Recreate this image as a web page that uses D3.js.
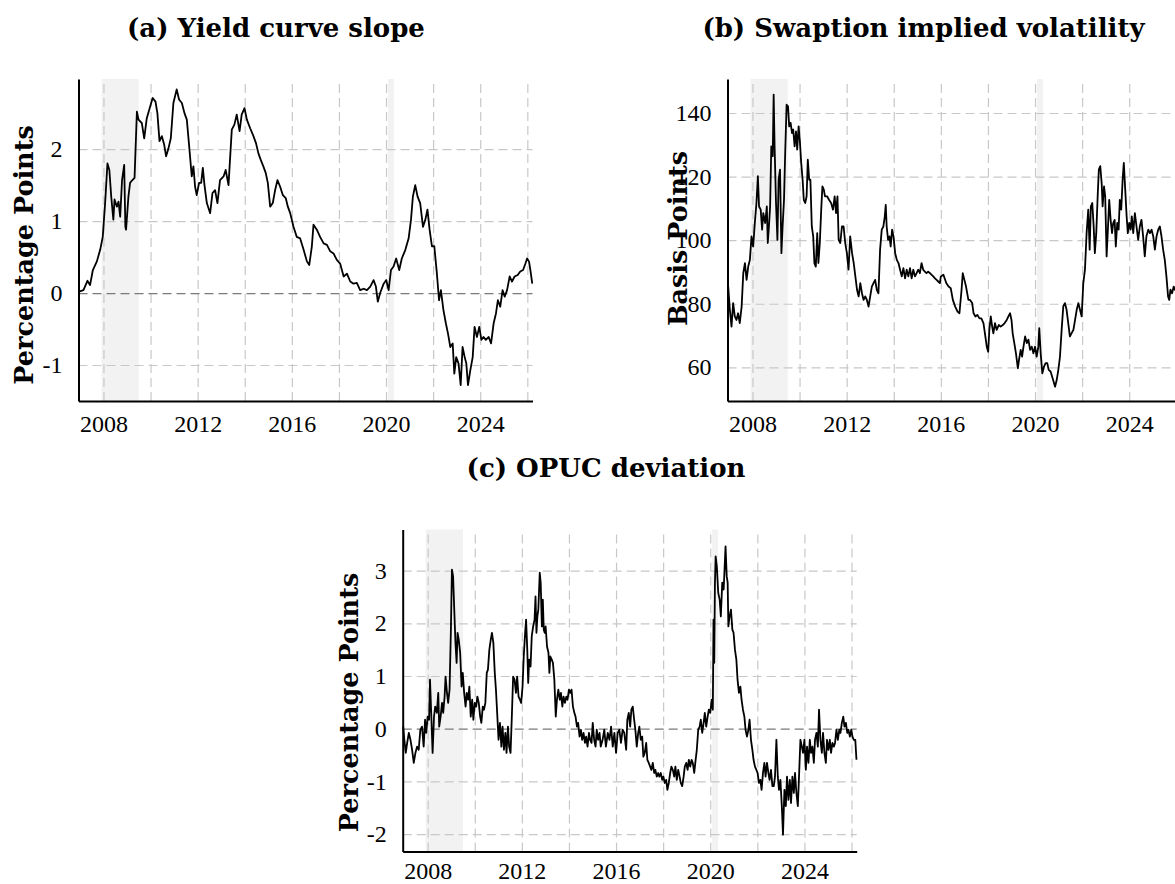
<!DOCTYPE html>
<html>
<head>
<meta charset="utf-8">
<script src="https://cdn.jsdelivr.net/npm/d3@7"></script>
<style>
body { margin: 0; background: #fff; }
</style>
</head>
<body>
<div id="chart"></div>
<script>
// ---- data (decimal years, values) ----
var slopeYears = [
  2006.97, 2007.15, 2007.32, 2007.43, 2007.55, 2007.72, 2007.86, 2007.97, 2008.07, 2008.17,
  2008.25, 2008.33, 2008.42, 2008.47, 2008.57, 2008.64, 2008.71, 2008.79, 2008.88, 2008.93,
  2008.96, 2009.06, 2009.13, 2009.23, 2009.32, 2009.42, 2009.49, 2009.63, 2009.73, 2009.84,
  2009.98, 2010.09, 2010.21, 2010.29, 2010.38, 2010.48, 2010.58, 2010.66, 2010.76, 2010.86,
  2010.97, 2011.11, 2011.21, 2011.33, 2011.44, 2011.54, 2011.64, 2011.75, 2011.82, 2011.89,
  2011.96, 2012.06, 2012.15, 2012.22, 2012.29, 2012.39, 2012.53, 2012.63, 2012.74, 2012.84,
  2012.95, 2013.10, 2013.19, 2013.31, 2013.45, 2013.56, 2013.66, 2013.78, 2013.87, 2013.99,
  2014.09, 2014.23, 2014.37, 2014.48, 2014.58, 2014.68, 2014.79, 2014.89, 2014.98, 2015.08,
  2015.19, 2015.29, 2015.39, 2015.50, 2015.62, 2015.74, 2015.83, 2015.93, 2016.07, 2016.21,
  2016.35, 2016.50, 2016.64, 2016.74, 2016.85, 2016.92, 2017.06, 2017.20, 2017.35, 2017.49,
  2017.63, 2017.77, 2017.91, 2018.05, 2018.20, 2018.34, 2018.48, 2018.62, 2018.76, 2018.90,
  2019.05, 2019.19, 2019.33, 2019.47, 2019.57, 2019.65, 2019.75, 2019.90, 2020.01, 2020.11,
  2020.21, 2020.32, 2020.43, 2020.56, 2020.67, 2020.82, 2020.96, 2021.06, 2021.14, 2021.24,
  2021.34, 2021.45, 2021.57, 2021.67, 2021.76, 2021.85, 2021.95, 2022.05, 2022.16, 2022.25,
  2022.33, 2022.44, 2022.54, 2022.63, 2022.73, 2022.83, 2022.90, 2022.98, 2023.08, 2023.17,
  2023.25, 2023.34, 2023.41, 2023.48, 2023.58, 2023.68, 2023.76, 2023.86, 2023.96, 2024.05,
  2024.14, 2024.24, 2024.36, 2024.46, 2024.57, 2024.67, 2024.75, 2024.85, 2024.95, 2025.04,
  2025.14, 2025.25, 2025.35, 2025.46, 2025.59, 2025.70, 2025.82, 2025.92, 2025.99, 2026.07,
  2026.13, 2026.21
];
var slopeValues = [
  0.02, 0.04, 0.17, 0.11, 0.32, 0.44, 0.60, 0.78, 1.25, 1.80,
  1.71, 1.34, 1.02, 1.30, 1.20, 1.27, 1.06, 1.57, 1.78, 0.92,
  0.88, 1.34, 1.53, 1.57, 1.60, 2.52, 2.41, 2.36, 2.15, 2.43,
  2.59, 2.71, 2.66, 2.50, 2.11, 2.18, 2.06, 1.90, 2.01, 2.15,
  2.64, 2.83, 2.69, 2.64, 2.50, 2.41, 2.04, 1.62, 1.76, 1.48,
  1.36, 1.53, 1.53, 1.74, 1.50, 1.25, 1.11, 1.39, 1.43, 1.25,
  1.57, 1.62, 1.71, 1.50, 2.27, 2.34, 2.48, 2.25, 2.48, 2.57,
  2.41, 2.29, 2.18, 2.08, 1.94, 1.85, 1.76, 1.67, 1.53, 1.20,
  1.25, 1.43, 1.57, 1.48, 1.36, 1.32, 1.20, 1.11, 0.92, 0.78,
  0.76, 0.60, 0.44, 0.39, 0.65, 0.95, 0.88, 0.78, 0.69, 0.67,
  0.58, 0.55, 0.46, 0.41, 0.23, 0.27, 0.16, 0.13, 0.14, 0.04,
  0.06, 0.04, 0.09, 0.18, 0.09, -0.12, 0.00, 0.13, 0.18, 0.04,
  0.32, 0.37, 0.48, 0.32, 0.48, 0.60, 0.76, 1.02, 1.34, 1.50,
  1.34, 1.25, 0.92, 1.02, 1.16, 0.88, 0.65, 0.65, 0.27, -0.10,
  0.04, -0.24, -0.42, -0.56, -0.75, -0.70, -1.12, -0.89, -0.98, -1.28,
  -0.75, -0.89, -0.98, -1.28, -1.07, -0.89, -0.47, -0.61, -0.47, -0.65,
  -0.61, -0.65, -0.61, -0.70, -0.42, -0.28, -0.10, -0.19, 0.04, -0.05,
  0.04, 0.23, 0.16, 0.23, 0.25, 0.30, 0.32, 0.41, 0.48, 0.44,
  0.32, 0.13
];

var volYears = [
  2006.97, 2007.04, 2007.11, 2007.18, 2007.25, 2007.32, 2007.39, 2007.46, 2007.54, 2007.61,
  2007.68, 2007.75, 2007.82, 2007.89, 2007.96, 2008.03, 2008.10, 2008.17, 2008.23, 2008.28,
  2008.35, 2008.41, 2008.46, 2008.54, 2008.61, 2008.65, 2008.70, 2008.75, 2008.80, 2008.86,
  2008.90, 2008.94, 2009.00, 2009.06, 2009.11, 2009.17, 2009.23, 2009.28, 2009.34, 2009.39,
  2009.45, 2009.51, 2009.56, 2009.62, 2009.68, 2009.73, 2009.79, 2009.85, 2009.90, 2009.96,
  2010.01, 2010.07, 2010.13, 2010.18, 2010.24, 2010.30, 2010.35, 2010.41, 2010.46, 2010.52,
  2010.58, 2010.63, 2010.69, 2010.75, 2010.80, 2010.86, 2010.92, 2010.97, 2011.03, 2011.08,
  2011.17, 2011.25, 2011.34, 2011.42, 2011.49, 2011.55, 2011.61, 2011.66, 2011.73, 2011.80,
  2011.87, 2011.94, 2012.01, 2012.08, 2012.15, 2012.23, 2012.30, 2012.37, 2012.44, 2012.51,
  2012.58, 2012.65, 2012.72, 2012.79, 2012.86, 2012.93, 2013.00, 2013.07, 2013.14, 2013.21,
  2013.28, 2013.35, 2013.42, 2013.49, 2013.56, 2013.62, 2013.66, 2013.70, 2013.76, 2013.82,
  2013.87, 2013.93, 2013.99, 2014.06, 2014.13, 2014.20, 2014.27, 2014.34, 2014.41, 2014.48,
  2014.55, 2014.62, 2014.69, 2014.76, 2014.83, 2014.90, 2014.97, 2015.04, 2015.11, 2015.18,
  2015.25, 2015.32, 2015.39, 2015.46, 2015.54, 2015.61, 2015.68, 2015.75, 2015.82, 2015.89,
  2015.96, 2016.00, 2016.11, 2016.23, 2016.33, 2016.42, 2016.51, 2016.61, 2016.71, 2016.79,
  2016.88, 2016.93, 2017.00, 2017.07, 2017.17, 2017.24, 2017.33, 2017.39, 2017.47, 2017.55,
  2017.64, 2017.72, 2017.81, 2017.89, 2017.95, 2018.01, 2018.06, 2018.12, 2018.18, 2018.23,
  2018.30, 2018.37, 2018.46, 2018.54, 2018.63, 2018.71, 2018.80, 2018.87, 2018.94, 2019.00,
  2019.05, 2019.12, 2019.19, 2019.27, 2019.32, 2019.39, 2019.45, 2019.51, 2019.58, 2019.65,
  2019.72, 2019.79, 2019.86, 2019.93, 2020.00, 2020.07, 2020.14, 2020.18, 2020.24, 2020.31,
  2020.38, 2020.45, 2020.52, 2020.58, 2020.66, 2020.75, 2020.85, 2020.92, 2020.99, 2021.06,
  2021.13, 2021.20, 2021.27, 2021.34, 2021.41, 2021.48, 2021.55, 2021.63, 2021.70, 2021.77,
  2021.84, 2021.91, 2021.98, 2022.05, 2022.12, 2022.19, 2022.26, 2022.32, 2022.37, 2022.43,
  2022.49, 2022.54, 2022.60, 2022.66, 2022.71, 2022.77, 2022.83, 2022.87, 2022.93, 2022.98,
  2023.04, 2023.10, 2023.15, 2023.21, 2023.27, 2023.32, 2023.38, 2023.43, 2023.49, 2023.55,
  2023.60, 2023.66, 2023.72, 2023.77, 2023.83, 2023.89, 2023.94, 2024.00, 2024.06, 2024.11,
  2024.17, 2024.24, 2024.31, 2024.38, 2024.45, 2024.52, 2024.59, 2024.66, 2024.73, 2024.81,
  2024.88, 2024.95, 2025.02, 2025.09, 2025.16, 2025.23, 2025.30, 2025.37, 2025.44, 2025.51,
  2025.58, 2025.65, 2025.70, 2025.75, 2025.82, 2025.89, 2025.94, 2026.05, 2026.20
];
var volValues = [
  85.4, 78.1, 72.8, 80.2, 76.0, 74.9, 77.0, 73.9, 79.1, 89.6,
  92.8, 87.5, 91.7, 93.8, 101.2, 98.0, 105.4, 111.7, 120.1, 110.6,
  109.6, 103.3, 108.5, 105.4, 110.6, 99.1, 104.3, 110.6, 129.5, 126.4,
  145.8, 129.5, 111.7, 100.1, 119.0, 122.2, 95.9, 104.3, 112.7, 127.4,
  142.6, 142.1, 135.8, 136.9, 133.7, 134.8, 129.5, 134.2, 128.5, 135.8,
  131.6, 124.3, 119.0, 112.7, 111.7, 113.8, 125.3, 119.0, 119.0, 104.3,
  101.2, 92.8, 91.7, 102.2, 92.8, 99.1, 109.6, 116.9, 115.9, 113.8,
  113.8, 112.7, 111.7, 109.6, 113.8, 108.5, 113.8, 100.1, 99.1, 104.3,
  104.3, 99.1, 95.9, 90.7, 101.2, 95.9, 92.8, 88.6, 84.4, 82.3,
  86.5, 83.3, 81.2, 82.3, 81.2, 79.1, 82.3, 85.4, 86.5, 87.5,
  84.4, 83.3, 97.0, 103.3, 104.3, 107.5, 111.1, 104.3, 100.1, 101.2,
  98.0, 103.3, 101.2, 95.9, 93.8, 92.8, 90.7, 88.6, 91.2, 88.0,
  90.7, 88.6, 91.2, 88.0, 90.7, 88.6, 89.6, 90.7, 89.6, 92.8,
  90.7, 90.1, 89.6, 90.1, 89.6, 89.1, 88.6, 88.0, 87.5, 87.0,
  86.5, 88.6, 89.1, 86.5, 85.4, 84.9, 81.2, 79.1, 77.5, 77.0,
  84.4, 89.6, 87.5, 85.4, 81.2, 81.2, 80.2, 77.0, 76.0, 76.5,
  75.4, 75.4, 73.9, 69.7, 66.5, 64.9, 71.8, 76.0, 72.8, 70.7,
  73.9, 71.8, 73.3, 72.8, 73.3, 73.9, 74.9, 76.0, 77.0, 74.9,
  70.7, 67.6, 64.4, 59.7, 62.3, 65.5, 63.4, 66.5, 69.7, 67.6,
  68.7, 65.5, 66.5, 64.4, 66.5, 63.4, 66.5, 72.3, 64.4, 58.1,
  60.2, 61.3, 61.3, 59.2, 58.7, 56.5, 53.9, 56.0, 59.2, 63.4,
  71.8, 79.2, 80.2, 78.1, 73.9, 69.7, 70.7, 71.8, 74.9, 78.1,
  80.2, 78.1, 76.0, 86.5, 90.7, 102.2, 109.6, 97.0, 110.6, 111.7,
  104.3, 95.9, 102.2, 113.8, 122.2, 123.3, 117.9, 110.6, 116.9, 113.8,
  94.9, 104.3, 112.7, 106.4, 102.2, 105.4, 106.4, 98.0, 105.4, 103.3,
  112.7, 109.6, 119.0, 124.3, 115.9, 107.5, 102.2, 105.4, 103.3, 107.5,
  102.2, 108.5, 104.3, 100.1, 104.3, 106.4, 101.2, 94.9, 101.2, 103.3,
  102.2, 103.3, 101.2, 97.0, 101.2, 103.3, 104.3, 101.2, 97.0, 93.8,
  88.6, 82.3, 81.2, 84.4, 83.3, 85.4, 84.4, 83.5, 82.5
];

var opucYears = [
  2006.96, 2007.01, 2007.07, 2007.13, 2007.20, 2007.27, 2007.34, 2007.41, 2007.48, 2007.55,
  2007.62, 2007.69, 2007.76, 2007.83, 2007.89, 2007.94, 2008.00, 2008.06, 2008.10, 2008.15,
  2008.21, 2008.27, 2008.32, 2008.39, 2008.45, 2008.49, 2008.55, 2008.61, 2008.66, 2008.72,
  2008.76, 2008.82, 2008.87, 2008.93, 2008.99, 2009.03, 2009.08, 2009.14, 2009.18, 2009.23,
  2009.27, 2009.32, 2009.38, 2009.44, 2009.49, 2009.55, 2009.61, 2009.66, 2009.72, 2009.77,
  2009.83, 2009.89, 2009.94, 2010.00, 2010.06, 2010.11, 2010.17, 2010.23, 2010.28, 2010.34,
  2010.39, 2010.45, 2010.51, 2010.56, 2010.62, 2010.68, 2010.73, 2010.79, 2010.85, 2010.90,
  2010.96, 2011.01, 2011.07, 2011.13, 2011.18, 2011.24, 2011.30, 2011.35, 2011.41, 2011.46,
  2011.52, 2011.58, 2011.63, 2011.69, 2011.75, 2011.80, 2011.86, 2011.92, 2011.97, 2012.03,
  2012.08, 2012.14, 2012.18, 2012.23, 2012.27, 2012.31, 2012.37, 2012.42, 2012.48, 2012.54,
  2012.58, 2012.62, 2012.66, 2012.70, 2012.76, 2012.80, 2012.85, 2012.89, 2012.93, 2012.97,
  2013.01, 2013.07, 2013.13, 2013.17, 2013.21, 2013.27, 2013.32, 2013.38, 2013.44, 2013.49,
  2013.55, 2013.61, 2013.66, 2013.72, 2013.77, 2013.83, 2013.89, 2013.94, 2014.00, 2014.06,
  2014.11, 2014.17, 2014.23, 2014.28, 2014.34, 2014.39, 2014.45, 2014.51, 2014.56, 2014.62,
  2014.68, 2014.73, 2014.79, 2014.85, 2014.90, 2014.96, 2015.01, 2015.07, 2015.13, 2015.18,
  2015.24, 2015.30, 2015.35, 2015.43, 2015.50, 2015.57, 2015.65, 2015.72, 2015.79, 2015.86,
  2015.93, 2016.00, 2016.07, 2016.14, 2016.21, 2016.28, 2016.35, 2016.43, 2016.48, 2016.54,
  2016.60, 2016.65, 2016.71, 2016.77, 2016.82, 2016.88, 2016.94, 2016.99, 2017.05, 2017.11,
  2017.16, 2017.22, 2017.28, 2017.33, 2017.39, 2017.45, 2017.50, 2017.56, 2017.62, 2017.67,
  2017.73, 2017.79, 2017.84, 2017.90, 2017.96, 2018.01, 2018.07, 2018.13, 2018.18, 2018.24,
  2018.30, 2018.35, 2018.41, 2018.47, 2018.52, 2018.58, 2018.64, 2018.70, 2018.75, 2018.81,
  2018.87, 2018.92, 2018.98, 2019.04, 2019.09, 2019.15, 2019.21, 2019.26, 2019.32, 2019.38,
  2019.43, 2019.49, 2019.55, 2019.60, 2019.66, 2019.72, 2019.77, 2019.83, 2019.89, 2019.94,
  2020.00, 2020.06, 2020.11, 2020.14, 2020.17, 2020.20, 2020.23, 2020.28, 2020.34, 2020.40,
  2020.45, 2020.51, 2020.57, 2020.62, 2020.65, 2020.70, 2020.74, 2020.77, 2020.82, 2020.88,
  2020.94, 2020.99, 2021.05, 2021.11, 2021.16, 2021.22, 2021.28, 2021.33, 2021.39, 2021.45,
  2021.50, 2021.56, 2021.62, 2021.67, 2021.73, 2021.79, 2021.84, 2021.90, 2021.96, 2022.01,
  2022.07, 2022.13, 2022.18, 2022.24, 2022.30, 2022.35, 2022.41, 2022.47, 2022.52, 2022.58,
  2022.64, 2022.70, 2022.75, 2022.81, 2022.87, 2022.92, 2022.98, 2023.04, 2023.09, 2023.15,
  2023.21, 2023.26, 2023.32, 2023.38, 2023.43, 2023.49, 2023.55, 2023.60, 2023.66, 2023.72,
  2023.77, 2023.83, 2023.89, 2023.94, 2024.00, 2024.06, 2024.11, 2024.17, 2024.23, 2024.28,
  2024.34, 2024.40, 2024.45, 2024.51, 2024.57, 2024.62, 2024.68, 2024.74, 2024.79, 2024.85,
  2024.91, 2024.96, 2025.02, 2025.08, 2025.13, 2025.19, 2025.25, 2025.30, 2025.36, 2025.42,
  2025.48, 2025.53, 2025.59, 2025.65, 2025.70, 2025.76, 2025.82, 2025.87, 2025.93, 2025.99,
  2026.04, 2026.10, 2026.16, 2026.21
];
var opucValues = [
  0.04, -0.21, -0.46, -0.27, -0.08, -0.21, -0.40, -0.65, -0.46, -0.34,
  -0.40, -0.02, 0.04, -0.34, 0.17, -0.08, 0.23, 0.17, 0.93, 0.30,
  -0.46, 0.23, 0.42, 0.30, 0.68, 0.04, 0.23, 0.49, 0.30, 0.61,
  0.99, 0.68, 0.49, 0.74, 1.94, 3.02, 2.89, 2.13, 1.63, 1.25,
  1.82, 1.69, 1.44, 0.80, 1.06, 0.68, 0.42, 0.68, 0.55, 0.80,
  0.23, 0.55, 0.17, 0.49, 0.42, 0.61, 0.49, 0.23, 0.11, 0.42,
  0.36, 0.49, 1.06, 1.12, 1.50, 1.69, 1.82, 1.63, 1.06, 0.74,
  0.23, -0.21, 0.11, -0.34, 0.04, -0.40, -0.08, -0.46, 0.04, -0.34,
  -0.46, 0.30, 0.99, 0.93, 0.68, 0.99, 0.61, 0.55, 0.49, 0.80,
  1.37, 1.82, 2.07, 1.50, 0.87, 1.31, 1.18, 1.75, 1.94, 2.07,
  2.51, 1.82, 2.13, 2.26, 2.96, 2.77, 1.94, 2.45, 1.88, 1.82,
  1.94, 1.56, 1.44, 1.06, 1.37, 1.31, 1.25, 0.93, 0.23, 0.55,
  0.74, 0.55, 0.68, 0.42, 0.61, 0.49, 0.61, 0.55, 0.74, 0.68,
  0.74, 0.42, 0.30, 0.23, 0.04, 0.11, -0.15, -0.02, -0.21, -0.08,
  -0.27, -0.15, -0.34, -0.08, -0.21, -0.27, 0.11, -0.21, -0.34, -0.02,
  -0.21, -0.08, -0.34, -0.21, -0.02, -0.34, -0.08, -0.21, 0.04, -0.34,
  -0.08, -0.46, -0.08, -0.02, -0.27, -0.02, -0.08, -0.40, 0.17, 0.30,
  0.04, 0.36, 0.42, 0.17, -0.02, -0.34, -0.08, 0.04, -0.21, -0.15,
  -0.53, -0.46, -0.27, -0.59, -0.65, -0.72, -0.78, -0.65, -0.84, -0.78,
  -0.91, -0.84, -0.91, -0.84, -0.97, -0.91, -1.03, -0.97, -1.16, -1.03,
  -0.84, -0.72, -0.78, -0.91, -0.72, -0.97, -0.78, -0.91, -1.03, -1.09,
  -0.91, -0.72, -0.65, -0.78, -0.59, -0.72, -0.59, -0.65, -0.84, -0.59,
  -0.40, -0.02, 0.04, 0.17, -0.08, 0.11, 0.30, 0.04, 0.23, 0.36,
  0.30, 0.55, 0.36, 2.07, 1.25, 2.77, 3.27, 3.08, 2.58, 2.45,
  2.13, 2.77, 2.64, 3.15, 3.46, 2.89, 2.77, 1.94, 2.13, 2.26,
  1.88, 1.82, 1.50, 1.31, 0.93, 0.68, 0.80, 0.55, 0.36, 0.23,
  -0.02, -0.15, -0.02, 0.17, -0.21, -0.40, -0.59, -0.72, -0.78, -0.84,
  -1.03, -0.97, -1.16, -0.84, -0.65, -0.91, -0.65, -0.84, -0.97, -0.78,
  -1.09, -1.09, -0.91, -0.21, -0.91, -1.16, -0.97, -1.47, -2.01, -1.16,
  -1.47, -0.91, -1.35, -0.97, -1.41, -0.91, -1.22, -0.84, -1.22, -1.47,
  -0.91, -0.21, -0.34, -0.46, -0.21, -0.78, -0.34, -0.65, -0.21, -0.46,
  -0.34, -0.65, -0.21, -0.08, -0.34, 0.36, -0.21, -0.46, -0.08, -0.46,
  -0.65, -0.21, -0.40, -0.21, -0.46, -0.27, -0.34, -0.27, -0.02, -0.21,
  -0.02, -0.08, 0.11, 0.23, 0.04, 0.11, -0.08, -0.02, -0.15, -0.02,
  -0.15, -0.21, -0.21, -0.59
];

// shaded recessions (start, end)
var recessionStart = [2007.917, 2020.083];
var recessionEnd = [2009.5, 2020.333];

// tick values
var gridYears = [2008, 2010, 2012, 2014, 2016, 2018, 2020, 2022, 2024, 2026];
var labelYears = [2008, 2012, 2016, 2020, 2024];
var slopeTicks = [-1, 0, 1, 2];
var volTicks = [60, 80, 100, 120, 140];
var opucTicks = [-2, -1, 0, 1, 2, 3];

// ---- layout ----
var svgWidth = 1175;
var svgHeight = 884;
var panelW = 454;
var panelH = 322;
var xDomain = [2006.94, 2026.22];
var tickFont = "'Liberation Serif', 'Times New Roman', serif";
var boldFont = "'DejaVu Serif', serif";

var svg = d3.select("#chart")
    .append("svg")
    .attr("width", svgWidth)
    .attr("height", svgHeight)
    .style("background", "#fff");

var panels = [
  {left: 78.5, top: 79, years: slopeYears, vals: slopeValues, yDomain: [-1.50, 2.974],
   ticks: slopeTicks, zero: true, xLabelY: 30.7, title: "(a) Yield curve slope", titleX: 276, titleY: 36.7,
   label: "Percentage Points", labelX: 33.3, labelY: 255},
  {left: 727.5, top: 79, years: volYears, vals: volValues, yDomain: [49.4, 150.7],
   ticks: volTicks, zero: false, xLabelY: 30.7, title: "(b) Swaption implied volatility", titleX: 923.5, titleY: 36.7,
   label: "Basis Points", labelX: 686.7, labelY: 238.5},
  {left: 402.7, top: 529.5, years: opucYears, vals: opucValues, yDomain: [-2.33, 3.78],
   ticks: opucTicks, zero: true, xLabelY: 27, title: "(c) OPUC deviation", titleX: 606, titleY: 476.7,
   label: "Percentage Points", labelX: 358, labelY: 702.5}
];

function drawPanel(p) {
    var x = d3.scaleLinear().domain(xDomain).range([0, panelW]);
    var y = d3.scaleLinear().domain(p.yDomain).range([panelH, 0]);

    var g = svg.append("g")
        .attr("transform", `translate(${p.left},${p.top})`);

    // recession bands
    g.selectAll("rect.rec")
        .data(recessionStart)
        .enter()
        .append("rect")
        .attr("class", "rec")
        .attr("x", d => x(d))
        .attr("width", (d, i) => x(recessionEnd[i]) - x(d))
        .attr("y", 0)
        .attr("height", panelH)
        .attr("fill", "#f2f2f2");

    // dashed grid
    var xGrid = g.append("g")
        .attr("transform", `translate(0,${panelH})`)
        .call(d3.axisBottom(x).tickValues(gridYears).tickSize(-panelH).tickFormat(""));
    var yGrid = g.append("g")
        .call(d3.axisLeft(y).tickValues(p.ticks).tickSize(-panelW).tickFormat(""));
    [xGrid, yGrid].forEach(a => {
        a.select(".domain").remove();
        a.selectAll(".tick line")
            .attr("stroke", "#c8c8c8")
            .attr("stroke-width", 1.2)
            .attr("stroke-dasharray", "9,5");
    });
    if (p.zero) {
        yGrid.selectAll(".tick")
            .filter(d => d === 0)
            .select("line")
            .attr("stroke", "#7a7a7a");
    }

    // series
    var line = d3.line()
        .x((d, i) => x(p.years[i]))
        .y(d => y(d));
    g.append("path")
        .datum(p.vals)
        .attr("d", line)
        .attr("fill", "none")
        .attr("stroke", "#000")
        .attr("stroke-width", 1.8)
        .attr("stroke-linejoin", "round");

    // axes with labels
    var xAxis = g.append("g")
        .attr("transform", `translate(0,${panelH})`)
        .call(d3.axisBottom(x).tickValues(labelYears).tickSize(0).tickSizeOuter(0)
            .tickFormat(d3.format("d")));
    xAxis.selectAll("text")
        .attr("y", p.xLabelY)
        .attr("dy", null);

    var yAxis = g.append("g")
        .call(d3.axisLeft(y).tickValues(p.ticks).tickSize(0).tickSizeOuter(0).tickPadding(16)
            .tickFormat(d => String(d)));

    [xAxis, yAxis].forEach(a => {
        a.select(".domain")
            .attr("stroke", "#000")
            .attr("stroke-width", 2);
        a.selectAll("text")
            .attr("font-family", tickFont)
            .attr("font-size", "24px")
            .attr("fill", "#000");
    });

    // title and axis label
    svg.append("text")
        .attr("x", p.titleX)
        .attr("y", p.titleY)
        .attr("text-anchor", "middle")
        .attr("font-family", boldFont)
        .attr("font-weight", "bold")
        .attr("font-size", "26px")
        .text(p.title);

    svg.append("text")
        .attr("transform", `translate(${p.labelX},${p.labelY}) rotate(-90)`)
        .attr("text-anchor", "middle")
        .attr("font-family", boldFont)
        .attr("font-weight", "bold")
        .attr("font-size", "25.5px")
        .text(p.label);
}

panels.forEach(drawPanel);
</script>
</body>
</html>
